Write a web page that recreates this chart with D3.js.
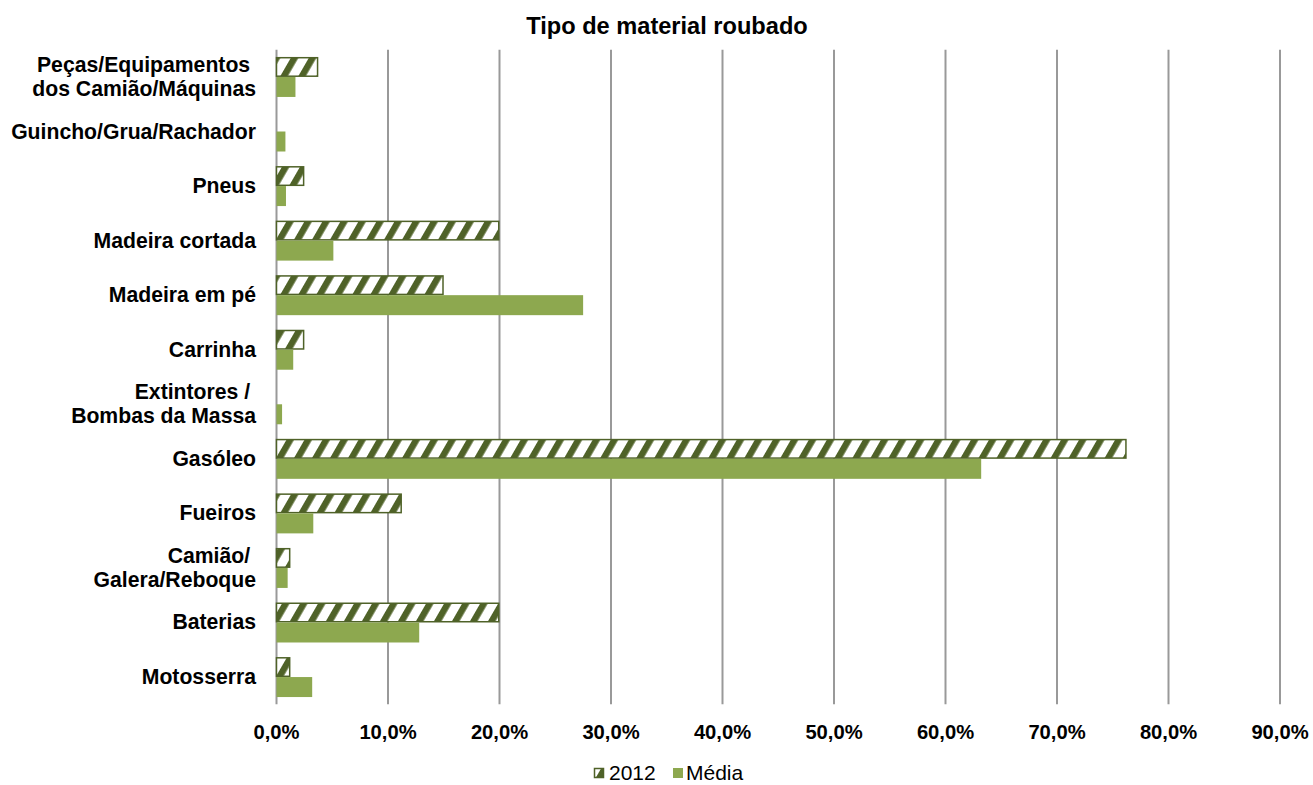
<!DOCTYPE html>
<html><head><meta charset="utf-8">
<script src="https://cdnjs.cloudflare.com/ajax/libs/d3/7.8.5/d3.min.js"></script>
<style>
html,body{margin:0;padding:0;background:#fff;}
svg{display:block;font-family:"Liberation Sans",Arial,sans-serif;}
</style></head>
<body>
<script>
const categories = [
  ["Peças/Equipamentos ", "dos Camião/Máquinas"],
  ["Guincho/Grua/Rachador"],
  ["Pneus"],
  ["Madeira cortada"],
  ["Madeira em pé"],
  ["Carrinha"],
  ["Extintores / ", "Bombas da Massa"],
  ["Gasóleo"],
  ["Fueiros"],
  ["Camião/ ", "Galera/Reboque"],
  ["Baterias"],
  ["Motosserra"]
];
const series = ["2012", "Média"];
const values2012 = [3.75, 0, 2.5, 20, 15, 2.5, 0, 76.25, 11.25, 1.25, 20, 1.25];
const valuesMedia = [1.7, 0.8, 0.85, 5.1, 27.5, 1.5, 0.5, 63.2, 3.3, 1.0, 12.8, 3.2];
const xTicks = [0, 10, 20, 30, 40, 50, 60, 70, 80, 90];
const title = "Tipo de material roubado";

const W = 1313, H = 785;
const dark = "#4F6228", green = "#8DA84F", grid = "#999999";

const svg = d3.select("body").append("svg").attr("width", W).attr("height", H);
const defs = svg.append("defs");
const pat = defs.append("pattern").attr("id", "hatch")
  .attr("patternUnits", "userSpaceOnUse").attr("width", 15.6).attr("height", 15.6)
  .attr("patternTransform", "rotate(30)");
pat.append("rect").attr("width", 15.6).attr("height", 15.6).attr("fill", "#fff");
pat.append("rect").attr("width", 6.5).attr("height", 15.6).attr("fill", dark);

const keys = categories.map((c, i) => "c" + i);
const x = d3.scaleLinear().domain([0, 90]).range([276.5, 1280]);
const y = d3.scaleBand().domain(keys).range([49.7, 704.3]).paddingInner(0.267).paddingOuter(0.133);
const ys = d3.scaleBand().domain(series).range([0, y.bandwidth()]);

// gridlines
svg.append("g").selectAll("line").data(xTicks).join("line")
  .attr("x1", d => x(d)).attr("x2", d => x(d))
  .attr("y1", 49.7).attr("y2", 704.3)
  .attr("stroke", grid).attr("stroke-width", 2);

// tick labels
svg.append("g").selectAll("text").data(xTicks).join("text")
  .attr("x", d => x(d)).attr("y", 739)
  .attr("text-anchor", "middle").attr("font-weight", "bold").attr("font-size", 20.2)
  .attr("fill", "#000")
  .text(d => d3.format(".1f")(d).replace(".", ",") + "%");

// bars
const rows = categories.map((c, i) => ({key: keys[i], v2012: values2012[i], vMedia: valuesMedia[i]}));
const g = svg.append("g");
g.selectAll("rect.b2012").data(rows.filter(r => r.v2012 > 0)).join("rect")
  .attr("class", "b2012")
  .attr("x", x(0)).attr("y", d => y(d.key) + ys("2012") + 0.75)
  .attr("width", d => x(d.v2012) - x(0) - 0.75).attr("height", ys.bandwidth() - 1.5)
  .attr("fill", "url(#hatch)").attr("stroke", dark).attr("stroke-width", 1.5);
g.selectAll("rect.bmed").data(rows).join("rect")
  .attr("class", "bmed")
  .attr("x", x(0)).attr("y", d => y(d.key) + ys("Média"))
  .attr("width", d => x(d.vMedia) - x(0)).attr("height", ys.bandwidth())
  .attr("fill", green);

// category labels
const lab = svg.append("g");
categories.forEach((lines, i) => {
  const cy = y(keys[i]) + y.bandwidth() / 2;
  const lh = 24;
  lines.forEach((t, j) => {
    lab.append("text")
      .attr("x", 256).attr("y", cy + (j - (lines.length - 1) / 2) * lh + 7)
      .attr("text-anchor", "end").attr("font-weight", "bold").attr("font-size", 21.2)
      .attr("fill", "#000").style("white-space", "pre")
      .text(t);
  });
});

// title
svg.append("text").attr("x", 667).attr("y", 34).attr("text-anchor", "middle")
  .attr("font-weight", "bold").attr("font-size", 23.6).attr("fill", "#000").text(title);

// legend
const leg = svg.append("g");
leg.append("rect").attr("x", 594.5).attr("y", 768.5).attr("width", 9).attr("height", 9)
  .attr("fill", "url(#hatch)").attr("stroke", dark).attr("stroke-width", 1.5);
leg.append("text").attr("x", 609).attr("y", 780).attr("font-size", 21).attr("fill", "#000").text(series[0]);
leg.append("rect").attr("x", 673).attr("y", 768).attr("width", 10).attr("height", 10).attr("fill", green);
leg.append("text").attr("x", 686).attr("y", 780).attr("font-size", 21).attr("fill", "#000").text(series[1]);
</script>
</body></html>
